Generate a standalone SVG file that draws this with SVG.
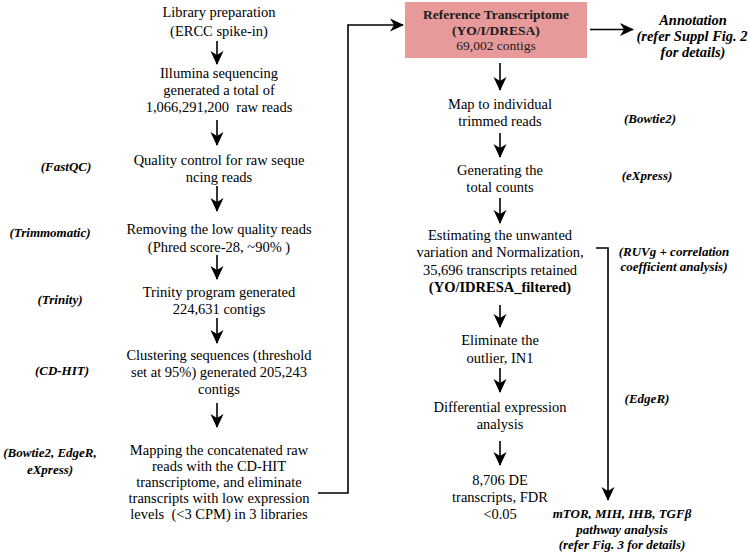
<svg xmlns="http://www.w3.org/2000/svg" width="750" height="554" viewBox="0 0 750 554">
<style>
text{font-family:"Liberation Serif","Times New Roman",serif;fill:#000;}
.m{font-size:14.5px;text-anchor:middle;white-space:pre;}
.b{font-weight:bold;}
.lab{font-size:13px;font-weight:bold;font-style:italic;text-anchor:middle;}
.ann{font-size:14.5px;font-weight:bold;font-style:italic;text-anchor:middle;}
.box{font-size:13.5px;text-anchor:middle;fill:#1a1a1a;}
.c{fill:none;stroke:#000;stroke-width:1.6;}
</style>
<defs>
<marker id="ah" viewBox="0 0 14 14" refX="13" refY="7" markerWidth="14" markerHeight="14" markerUnits="userSpaceOnUse" orient="auto">
<path d="M0,0.5 L14,7 L0,13.5 L4,7 z" fill="#000"/>
</marker>
</defs>

<g id="connectors">
<line class="c" x1="217" y1="41" x2="217" y2="64" marker-end="url(#ah)"/>
<line class="c" x1="217" y1="120" x2="217" y2="145" marker-end="url(#ah)"/>
<line class="c" x1="217" y1="186" x2="217" y2="211" marker-end="url(#ah)"/>
<line class="c" x1="217" y1="255" x2="217" y2="279" marker-end="url(#ah)"/>
<line class="c" x1="217" y1="318" x2="217" y2="343" marker-end="url(#ah)"/>
<line class="c" x1="217" y1="403" x2="217" y2="427" marker-end="url(#ah)"/>
<polyline class="c" points="318,493 348,493 348,25 403,25" marker-end="url(#ah)"/>
<line class="c" x1="590" y1="29.5" x2="633" y2="29.5" marker-end="url(#ah)"/>
<line class="c" x1="500" y1="63" x2="500" y2="90" marker-end="url(#ah)"/>
<line class="c" x1="500" y1="133" x2="500" y2="157" marker-end="url(#ah)"/>
<line class="c" x1="500" y1="198" x2="500" y2="223" marker-end="url(#ah)"/>
<line class="c" x1="500" y1="305" x2="500" y2="327" marker-end="url(#ah)"/>
<line class="c" x1="500" y1="368" x2="500" y2="392" marker-end="url(#ah)"/>
<line class="c" x1="500" y1="441" x2="500" y2="465" marker-end="url(#ah)"/>
<polyline class="c" points="596,248 608,248 608,500" marker-end="url(#ah)"/>
</g>

<g id="n-library">
<text class="m" x="219" y="17">Library preparation</text>
<text class="m" x="219" y="36">(ERCC spike-in)</text>
</g>
<g id="n-illumina">
<text class="m" x="219" y="78">Illumina sequencing</text>
<text class="m" x="219" y="95">generated a total of</text>
<text class="m" x="219" y="112">1,066,291,200  raw reads</text>
</g>
<g id="n-qc">
<text class="m" x="219" y="165">Quality control for raw seque</text>
<text class="m" x="219" y="182">ncing reads</text>
</g>
<g id="n-remove">
<text class="m" x="219" y="234">Removing the low quality reads</text>
<text class="m" x="219" y="252">(Phred score-28, ~90% )</text>
</g>
<g id="n-trinity">
<text class="m" x="219" y="297">Trinity program generated</text>
<text class="m" x="219" y="314">224,631 contigs</text>
</g>
<g id="n-cluster">
<text class="m" x="219" y="360">Clustering sequences (threshold</text>
<text class="m" x="219" y="377">set at 95%) generated 205,243</text>
<text class="m" x="219" y="394">contigs</text>
</g>
<g id="n-mapping">
<text class="m" x="219" y="455">Mapping the concatenated raw</text>
<text class="m" x="219" y="471">reads with the CD-HIT</text>
<text class="m" x="219" y="487">transcriptome, and eliminate</text>
<text class="m" x="219" y="503">transcripts with low expression</text>
<text class="m" x="219" y="519">levels  (&lt;3 CPM) in 3 libraries</text>
</g>

<g id="labels-left">
<text class="lab" x="66" y="171">(FastQC)</text>
<text class="lab" x="50" y="237">(Trimmomatic)</text>
<text class="lab" x="60" y="304">(Trinity)</text>
<text class="lab" x="62" y="375">(CD-HIT)</text>
<text class="lab" x="50" y="457">(Bowtie2, EdgeR,</text>
<text class="lab" x="50" y="474">eXpress)</text>
</g>

<g id="n-reference">
<rect x="405" y="2" width="182" height="56" fill="#e89a9b"/>
<text class="box b" x="496" y="19">Reference Transcriptome</text>
<text class="box b" x="496" y="35">(YO/I/DRESA)</text>
<text class="box" x="496" y="50">69,002 contigs</text>
</g>
<g id="n-annotation">
<text class="ann" x="693" y="25">Annotation</text>
<text class="ann" x="692" y="41">(refer Suppl Fig. 2</text>
<text class="ann" x="693" y="57">for details)</text>
</g>
<g id="n-map">
<text class="m" x="500" y="109">Map to individual</text>
<text class="m" x="500" y="126">trimmed reads</text>
</g>
<g id="n-counts">
<text class="m" x="500" y="175">Generating the</text>
<text class="m" x="500" y="192">total counts</text>
</g>
<g id="n-estimating">
<text class="m" x="500" y="240">Estimating the unwanted</text>
<text class="m" x="500" y="257">variation and Normalization,</text>
<text class="m" x="500" y="275">35,696 transcripts retained</text>
<text class="m b" x="500" y="292">(YO/IDRESA_filtered)</text>
</g>
<g id="n-outlier">
<text class="m" x="500" y="345">Eliminate the</text>
<text class="m" x="500" y="363">outlier, IN1</text>
</g>
<g id="n-diff">
<text class="m" x="500" y="412">Differential expression</text>
<text class="m" x="500" y="429">analysis</text>
</g>
<g id="n-de">
<text class="m" x="500" y="485">8,706 DE</text>
<text class="m" x="500" y="502">transcripts, FDR</text>
<text class="m" x="500" y="519">&lt;0.05</text>
</g>
<g id="n-pathway">
<text class="lab" x="622" y="518">mTOR, MIH, IHB, TGFβ</text>
<text class="lab" x="622" y="534">pathway analysis</text>
<text class="lab" x="622" y="549">(refer Fig. 3 for details)</text>
</g>
<g id="labels-right">
<text class="lab" x="650" y="123">(Bowtie2)</text>
<text class="lab" x="647" y="180">(eXpress)</text>
<text class="lab" x="674" y="256">(RUVg + correlation</text>
<text class="lab" x="674" y="271">coefficient analysis)</text>
<text class="lab" x="647" y="403">(EdgeR)</text>
</g>
</svg>
